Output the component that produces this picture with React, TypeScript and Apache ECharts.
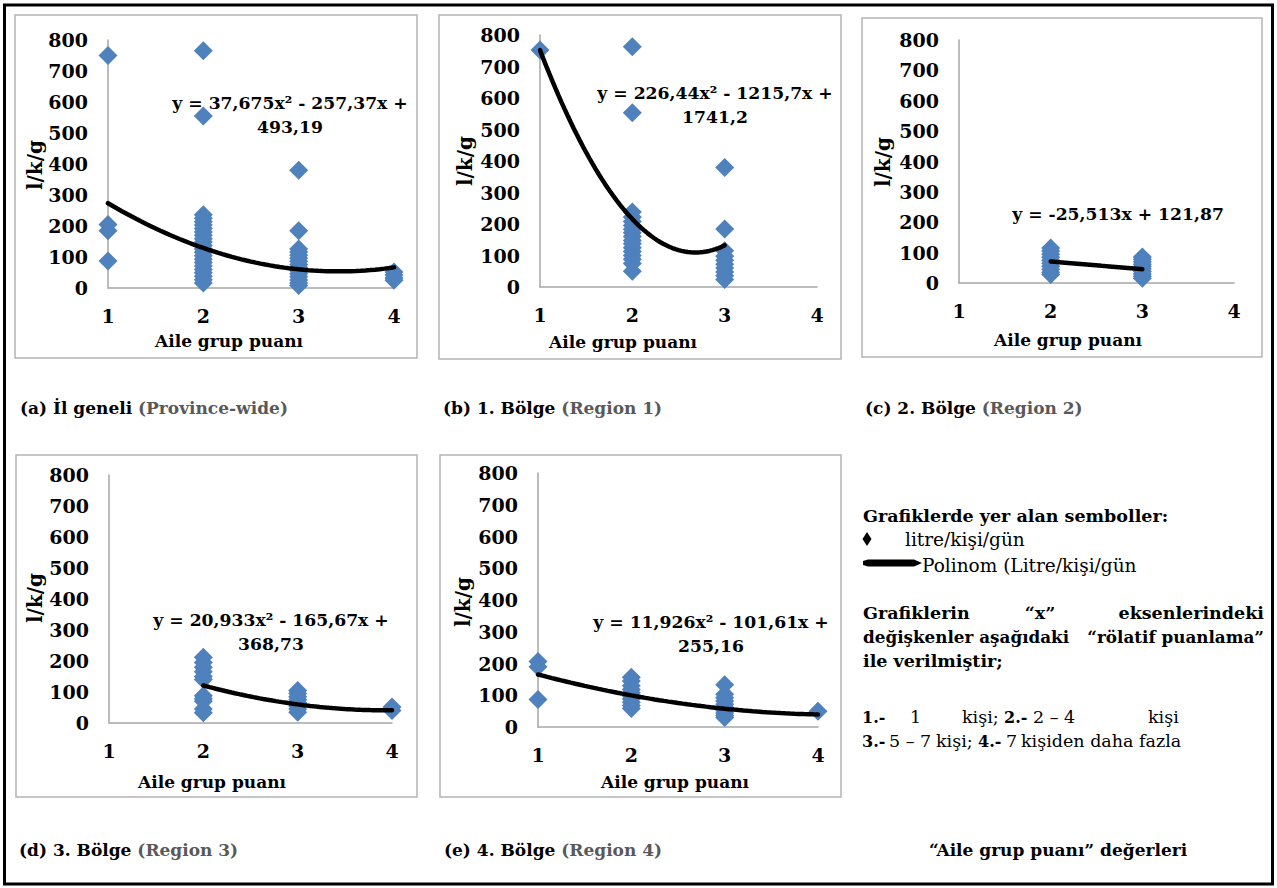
import React, { useEffect, useRef } from 'react';
import * as echarts from 'echarts';

// ---------- axis settings ----------
const X_MIN = 1;
const X_MAX = 4;
const X_STEP = 1;
const Y_MIN = 0;
const Y_MAX = 800;
const Y_STEP = 100;

// ---------- (a) İl geneli ----------
const aX1 = [750, 205, 185, 87];
const aX2 = [765, 555, 236, 225, 214, 203, 192, 181, 170, 159, 148, 137, 126, 115, 104, 93, 82, 71, 60, 49, 38, 27, 16];
const aX3 = [380, 185, 126, 116, 106, 96, 86, 76, 66, 56, 46, 36, 26, 16, 8];
const aX4 = [52, 42, 32, 25];
const aCoef = [37.675, -257.37, 493.19];
const aRange = [1, 4];
const aEq = ['y = 37,675x² - 257,37x +', '493,19'];

// ---------- (b) 1. Bölge ----------
const bX1 = [752];
const bX2 = [763, 553, 238, 222, 208, 195, 183, 172, 160, 148, 137, 125, 113, 100, 88, 75, 50];
const bX3 = [379, 184, 115, 98, 85, 72, 60, 48, 36, 24];
const bCoef = [226.44, -1215.7, 1741.2];
const bRange = [1, 3];
const bEq = ['y = 226,44x² - 1215,7x +', '1741,2'];

// ---------- (c) 2. Bölge ----------
const cX2 = [115, 105, 95, 85, 75, 65, 55, 45, 35, 28];
const cX3 = [86, 78, 70, 62, 54, 46, 38, 30, 22, 16];
const cCoef = [0, -25.513, 121.87];
const cRange = [2, 3];
const cEq = ['y = -25,513x + 121,87'];

// ---------- (d) 3. Bölge ----------
const dX2 = [212, 195, 180, 165, 150, 140, 88, 78, 70, 45, 33];
const dX3 = [105, 95, 85, 75, 65, 55, 45, 35];
const dX4 = [52, 40];
const dCoef = [20.933, -165.67, 368.73];
const dRange = [2, 4];
const dEq = ['y = 20,933x² - 165,67x +', '368,73'];

// ---------- (e) 4. Bölge ----------
const eX1 = [206, 190, 87];
const eX2 = [157, 145, 130, 118, 108, 98, 88, 78, 68, 58];
const eX3 = [133, 103, 92, 82, 72, 62, 52, 44, 36, 30];
const eX4 = [50];
const eCoef = [11.926, -101.61, 255.16];
const eRange = [1, 4];
const eEq = ['y = 11,926x² - 101,61x +', '255,16'];

const Y_TITLE = 'l/k/g';
const X_TITLE = 'Aile grup puanı';

const SERIF = '"DejaVu Serif", serif';
const BLUE = '#4F81BD';
const AXIS_GRAY = '#A6A6A6';
const BORDER_GRAY = '#B4B4B4';

const TICK_SIZE = 19;
const EQ_SIZE = 17.2;
const XT_SIZE = 17;
const YT_SIZE = 20;
const CAP_SIZE = 17;
const LEG_BOLD = 17.5;
const LEG_NORM = 18.5;
const NUM_BOLD = 16;
const NUM_NORM = 17.5;

type Panel = {
  groups: [number, number[]][];
  coef: number[];
  range: number[];
  eq: string[];
  grid: { left: number; top: number; width: number; height: number };
  border: number[];
  eqPos: number[];
  yTitle: number[];
  xTitle: number[];
};

const panels: Panel[] = [
  {
    groups: [[1, aX1], [2, aX2], [3, aX3], [4, aX4]],
    coef: aCoef, range: aRange, eq: aEq,
    grid: { left: 108, top: 40, width: 286, height: 248 },
    border: [15, 15, 402, 343],
    eqPos: [290, 103],
    yTitle: [35, 165],
    xTitle: [229, 341],
  },
  {
    groups: [[1, bX1], [2, bX2], [3, bX3]],
    coef: bCoef, range: bRange, eq: bEq,
    grid: { left: 540, top: 35, width: 277, height: 252 },
    border: [439, 15, 402, 344],
    eqPos: [715, 93],
    yTitle: [465, 161],
    xTitle: [623, 342],
  },
  {
    groups: [[2, cX2], [3, cX3]],
    coef: cCoef, range: cRange, eq: cEq,
    grid: { left: 959, top: 40, width: 275, height: 243 },
    border: [862, 18, 400, 339],
    eqPos: [1118, 214],
    yTitle: [883, 162],
    xTitle: [1068, 340],
  },
  {
    groups: [[2, dX2], [3, dX3], [4, dX4]],
    coef: dCoef, range: dRange, eq: dEq,
    grid: { left: 109, top: 475, width: 283, height: 248 },
    border: [16, 455, 401, 342],
    eqPos: [271, 620],
    yTitle: [35, 598],
    xTitle: [212, 782],
  },
  {
    groups: [[1, eX1], [2, eX2], [3, eX3], [4, eX4]],
    coef: eCoef, range: eRange, eq: eEq,
    grid: { left: 538, top: 473, width: 280, height: 254 },
    border: [440, 455, 401, 342],
    eqPos: [711, 622],
    yTitle: [463, 602],
    xTitle: [675, 782],
  },
];

function trend(coef: number[], range: number[]): number[][] {
  const pts: number[][] = [];
  const n = 60;
  for (let i = 0; i <= n; i++) {
    const x = range[0] + ((range[1] - range[0]) * i) / n;
    pts.push([x, coef[0] * x * x + coef[1] * x + coef[2]]);
  }
  return pts;
}

function boldText(x: number, y: number, text: string, size = 16, align = 'center', extra: any = {}) {
  return {
    type: 'text',
    x, y,
    silent: true,
    ...extra,
    style: {
      text,
      fill: '#000',
      fontFamily: SERIF,
      fontSize: size,
      fontWeight: 'bold',
      align,
      verticalAlign: 'middle',
    },
  };
}

function normText(x: number, y: number, text: string, size = LEG_NORM, align = 'left') {
  return {
    type: 'text',
    x, y,
    silent: true,
    style: {
      text,
      fill: '#000',
      fontFamily: SERIF,
      fontSize: size,
      fontWeight: 'normal',
      align,
      verticalAlign: 'middle',
    },
  };
}

function caption(x: number, y: number, head: string, tail: string) {
  return {
    type: 'text',
    x, y,
    silent: true,
    style: {
      text: tail ? `{h|${head}}{t|${tail}}` : `{h|${head}}`,
      align: 'left',
      verticalAlign: 'middle',
      rich: {
        h: { fill: '#000', fontFamily: SERIF, fontSize: CAP_SIZE, fontWeight: 'bold' },
        t: { fill: '#595959', fontFamily: SERIF, fontSize: CAP_SIZE, fontWeight: 'bold' },
      },
    },
  };
}

export default function App() {
  const ref = useRef<HTMLDivElement>(null);

  useEffect(() => {
    if (!ref.current) return;
    const chart = echarts.init(ref.current, null, { renderer: 'svg' });

    const grid = panels.map((p) => ({ ...p.grid, containLabel: false }));
    const axisLabel = { color: '#000', fontFamily: SERIF, fontSize: TICK_SIZE, fontWeight: 'bold', margin: 20 };
    const xAxis = panels.map((p, i) => ({
      type: 'value',
      gridIndex: i,
      min: X_MIN,
      max: X_MAX,
      interval: X_STEP,
      axisLine: { show: true, onZero: false, lineStyle: { color: AXIS_GRAY, width: 1.5 } },
      axisTick: { show: false },
      splitLine: { show: false },
      axisLabel: { ...axisLabel, margin: 18 },
    }));
    const yAxis = panels.map((p, i) => ({
      type: 'value',
      gridIndex: i,
      min: Y_MIN,
      max: Y_MAX,
      interval: Y_STEP,
      axisLine: { show: true, onZero: false, lineStyle: { color: AXIS_GRAY, width: 1.5 } },
      axisTick: { show: false },
      splitLine: { show: false },
      axisLabel,
    }));

    const series: any[] = [];
    panels.forEach((p, i) => {
      const data: number[][] = [];
      p.groups.forEach(([x, ys]) => ys.forEach((y) => data.push([x, y])));
      series.push({
        type: 'scatter',
        xAxisIndex: i,
        yAxisIndex: i,
        data,
        symbol: 'diamond',
        symbolSize: [19, 19],
        itemStyle: { color: BLUE, opacity: 1 },
        clip: false,
        z: 2,
        silent: true,
      });
      series.push({
        type: 'line',
        xAxisIndex: i,
        yAxisIndex: i,
        data: trend(p.coef, p.range),
        showSymbol: false,
        symbol: 'none',
        lineStyle: { color: '#000', width: 4.5, cap: 'round' },
        clip: false,
        z: 3,
        silent: true,
      });
    });

    const graphic: any[] = [];
    // outer frame
    graphic.push({
      type: 'rect',
      shape: { x: 4.5, y: 5, width: 1268, height: 879 },
      style: { fill: 'none', stroke: '#000', lineWidth: 3 },
      silent: true,
    });
    panels.forEach((p) => {
      graphic.push({
        type: 'rect',
        shape: { x: p.border[0], y: p.border[1], width: p.border[2], height: p.border[3] },
        style: { fill: 'none', stroke: BORDER_GRAY, lineWidth: 1.5 },
        silent: true,
        z: -1,
      });
      graphic.push(boldText(p.xTitle[0], p.xTitle[1], X_TITLE, XT_SIZE));
      graphic.push(boldText(p.yTitle[0], p.yTitle[1], Y_TITLE, YT_SIZE, 'center', { rotation: Math.PI / 2 }));
      p.eq.forEach((line, k) => {
        graphic.push({ ...boldText(p.eqPos[0], p.eqPos[1] + k * 24, line, EQ_SIZE), z: 10 });
      });
    });

    // captions
    graphic.push(caption(20, 408, '(a) İl geneli ', '(Province-wide)'));
    graphic.push(caption(443, 408, '(b) 1. Bölge ', '(Region 1)'));
    graphic.push(caption(865, 408, '(c) 2. Bölge ', '(Region 2)'));
    graphic.push(caption(19, 850, '(d) 3. Bölge ', '(Region 3)'));
    graphic.push(caption(444, 850, '(e) 4. Bölge ', '(Region 4)'));
    graphic.push(caption(929, 850, '“Aile grup puanı” değerleri', ''));

    // legend block
    graphic.push(boldText(863, 516, 'Grafiklerde yer alan semboller:', LEG_BOLD, 'left'));
    graphic.push({
      type: 'polygon',
      shape: { points: [[867, 532], [871.5, 539], [867, 546], [862.5, 539]] },
      style: { fill: '#000' },
      silent: true,
    });
    graphic.push(normText(905, 539, 'litre/kişi/gün'));
    graphic.push({
      type: 'polygon',
      shape: { points: [[863, 561], [868, 559.5], [914, 559.5], [922, 563], [914, 566.5], [868, 566.5], [863, 565]] },
      style: { fill: '#000' },
      silent: true,
    });
    graphic.push(normText(922, 565, 'Polinom (Litre/kişi/gün'));

    graphic.push(boldText(863, 613, 'Grafiklerin', LEG_BOLD, 'left'));
    graphic.push(boldText(1040, 613, '“x”', LEG_BOLD, 'center'));
    graphic.push(boldText(1264, 613, 'eksenlerindeki', LEG_BOLD, 'right'));
    graphic.push(boldText(863, 637, 'değişkenler aşağıdaki', 16.8, 'left'));
    graphic.push(boldText(1264, 637, '“rölatif puanlama”', 16.8, 'right'));
    graphic.push(boldText(863, 661, 'ile verilmiştir;', LEG_BOLD, 'left'));

    graphic.push(boldText(862, 717, '1.-', NUM_BOLD, 'left'));
    graphic.push(normText(910, 717, '1', NUM_NORM));
    graphic.push(normText(962, 717, 'kişi;', NUM_NORM));
    graphic.push(boldText(1004, 717, '2.-', NUM_BOLD, 'left'));
    graphic.push(normText(1033, 717, '2 – 4', NUM_NORM));
    graphic.push(normText(1148, 717, 'kişi', NUM_NORM));

    graphic.push(boldText(862, 741, '3.-', NUM_BOLD, 'left'));
    graphic.push(normText(889, 741, '5 – 7', NUM_NORM));
    graphic.push(normText(936, 741, 'kişi;', NUM_NORM));
    graphic.push(boldText(978, 741, '4.-', NUM_BOLD, 'left'));
    graphic.push(normText(1006, 741, '7', NUM_NORM));
    graphic.push(normText(1021, 741, 'kişiden daha fazla', NUM_NORM));

    chart.setOption({
      animation: false,
      backgroundColor: '#fff',
      textStyle: { fontFamily: SERIF },
      grid,
      xAxis,
      yAxis,
      series,
      graphic,
    });

    return () => chart.dispose();
  }, []);

  return (
    <div
      ref={ref}
      style={{ position: 'fixed', left: 0, top: 0, width: 1277, height: 888, background: '#fff' }}
    />
  );
}
